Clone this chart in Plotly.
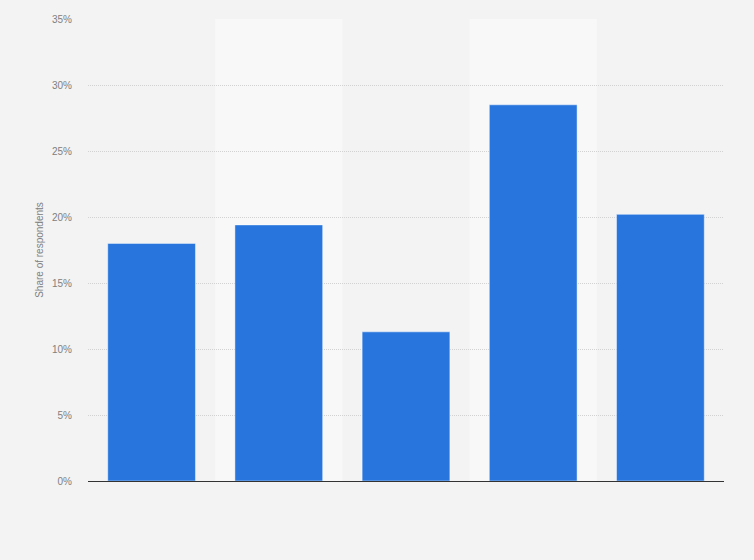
import plotly.graph_objects as go

categories = ["Category 1", "Category 2", "Category 3", "Category 4", "Category 5"]
values = [18.0, 19.4, 11.3, 28.5, 20.2]
y_ticks = [0, 5, 10, 15, 20, 25, 30, 35]
y_tick_labels = [f"{t}%" for t in y_ticks]

fig = go.Figure()
fig.add_trace(go.Bar(
    x=categories, y=values,
    marker=dict(color="#2876dd", line=dict(color="rgba(255,255,255,0.45)", width=1)),
    width=0.69,
    hovertemplate="%{y}%<extra></extra>",
))

shapes = []
for i in range(len(categories)):
    if i % 2 == 1:
        shapes.append(dict(type="rect", xref="x", yref="paper",
                           x0=i - 0.5, x1=i + 0.5, y0=0, y1=1,
                           fillcolor="#f8f8f8", line=dict(width=0), layer="below"))

fig.update_layout(
    width=754, height=560,
    margin=dict(l=88, r=30, t=19, b=79),
    paper_bgcolor="#f3f3f3", plot_bgcolor="#f3f3f3",
    showlegend=False,
    shapes=shapes,
    font=dict(family="Arial, Liberation Sans, sans-serif", color="#666666", size=10),
    xaxis=dict(showticklabels=False, showgrid=False, zeroline=False,
               showline=False, ticks="", range=[-0.5, len(categories) - 0.5]),
    yaxis=dict(range=[0, 35], tickvals=y_ticks, ticktext=y_tick_labels,
               showgrid=True, gridcolor="#d2d2d2", griddash="1px,1px", gridwidth=1,
               zeroline=True, zerolinecolor="#333333", zerolinewidth=1.3,
               showline=False, ticks="", ticklabelstandoff=15,
               tickfont=dict(size=10, color="#808080"),
               title=dict(text="Share of respondents", font=dict(size=10, color="#808080"),
                          standoff=6)),
    bargap=0.31,
)

fig.write_html("out.html", config={"displayModeBar": False},
               post_script="document.body.style.margin='0';document.body.style.background='#f3f3f3';")
